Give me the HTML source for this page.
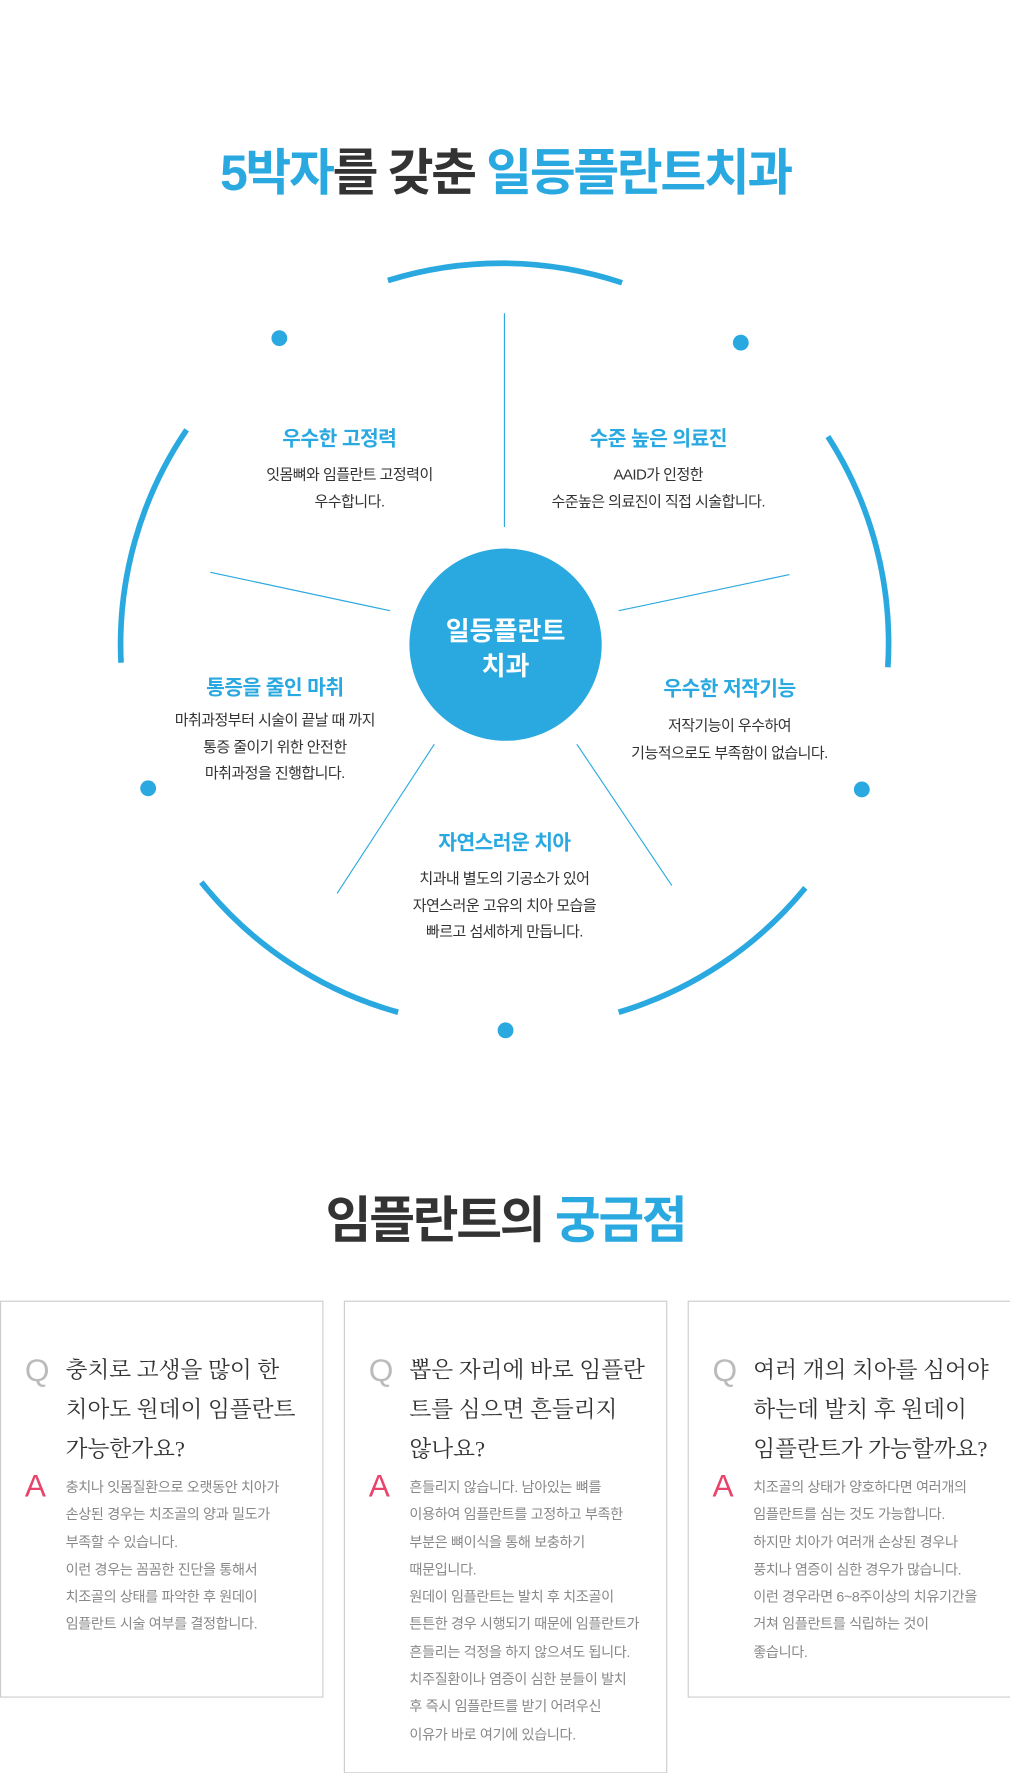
<!DOCTYPE html>
<html><head><meta charset="utf-8"><style>
html,body{margin:0;padding:0;background:#fff;width:1010px;height:1773px;overflow:hidden}
#w{position:absolute;left:0;top:0;width:893px;height:1568px;transform:scale(1.131);transform-origin:0 0;font-family:"Liberation Sans","Noto Sans CJK KR",sans-serif}
.a{position:absolute;white-space:nowrap;text-align:center;transform:translateX(-50%)}
.t{font-size:44px;font-weight:bold;letter-spacing:-2px;color:#333;line-height:1}
.b{color:#29a9e0}
.h{font-size:18px;font-weight:bold;color:#29a9e0;letter-spacing:-0.5px}
.d{font-size:13.3px;color:#333;line-height:23.5px;letter-spacing:-0.5px}
.card{position:absolute;border:1px solid #ccc;box-sizing:border-box}
.q{position:absolute;left:21px;top:45px;font-size:28px;color:#bbb;font-family:"Liberation Sans",sans-serif}
.qt{position:absolute;left:57px;top:44px;font-family:"Liberation Serif","Noto Serif CJK SC",serif;font-size:20px;line-height:35px;color:#333;white-space:nowrap}
.aa{position:absolute;left:21px;top:147px;font-size:28px;color:#e8436a;font-family:"Liberation Sans",sans-serif}
.at{position:absolute;left:57px;top:152px;font-size:12.5px;line-height:24.3px;color:#888;white-space:nowrap;letter-spacing:-0.3px}
</style></head><body><div id="w">
<div class="a t" style="left:447px;top:132px"><span class="b">5박자</span>를 갖춘 <span class="b">일등플란트치과</span></div>
<svg style="position:absolute;left:0;top:0" width="893" height="1000">
<g fill="none" stroke="#29a9e0" stroke-width="5">
<path d="M343 248 A338 338 0 0 1 550 250"/>
<path d="M165 380 A338 338 0 0 0 107 586"/>
<path d="M732 386 A338 338 0 0 1 785 590"/>
<path d="M178 780 A338 338 0 0 0 352 895"/>
<path d="M547 895 A338 338 0 0 0 712 785"/>
</g>
<g fill="#29a9e0"><circle cx="247" cy="299" r="7"/><circle cx="655" cy="303" r="7"/><circle cx="131" cy="697" r="7"/><circle cx="762" cy="698" r="7"/><circle cx="447" cy="911" r="7"/></g>
<g stroke="#29a9e0" stroke-width="1">
<line x1="446" y1="277" x2="446" y2="466"/><line x1="186" y1="506" x2="345" y2="540"/><line x1="547" y1="540" x2="698" y2="508"/><line x1="384" y1="658" x2="298" y2="790"/><line x1="510" y1="658" x2="594" y2="783"/>
</g>
<circle cx="447" cy="570" r="85" fill="#29a9e0"/>
</svg>
<div class="a" style="left:447px;top:543px;color:#fff;font-size:23px;font-weight:bold;line-height:31px">일등플란트<br>치과</div>
<div class="a h" style="left:300px;top:374px">우수한 고정력</div>
<div class="a d" style="left:309px;top:408px">잇몸뼈와 임플란트 고정력이<br>우수합니다.</div>
<div class="a h" style="left:582px;top:374px">수준 높은 의료진</div>
<div class="a d" style="left:582px;top:408px">AAID가 인정한<br>수준높은 의료진이 직접 시술합니다.</div>
<div class="a h" style="left:243px;top:594px">통증을 줄인 마취</div>
<div class="a d" style="left:243px;top:625px">마취과정부터 시술이 끝날 때 까지<br>통증 줄이기 위한 안전한<br>마취과정을 진행합니다.</div>
<div class="a h" style="left:645px;top:595px">우수한 저작기능</div>
<div class="a d" style="left:645px;top:630px">저작기능이 우수하여<br>기능적으로도 부족함이 없습니다.</div>
<div class="a h" style="left:446px;top:731px">자연스러운 치아</div>
<div class="a d" style="left:446px;top:765px">치과내 별도의 기공소가 있어<br>자연스러운 고유의 치아 모습을<br>빠르고 섬세하게 만듭니다.</div>
<div class="a t" style="left:447px;top:1058px">임플란트의 <span class="b">궁금점</span></div>
<div class="card" style="left:0;top:1150px;width:286px;height:351px">
<div class="q">Q</div><div class="qt">충치로 고생을 많이 한<br>치아도 원데이 임플란트<br>가능한가요?</div>
<div class="aa">A</div><div class="at">충치나 잇몸질환으로 오랫동안 치아가<br>손상된 경우는 치조골의 양과 밀도가<br>부족할 수 있습니다.<br>이런 경우는 꼼꼼한 진단을 통해서<br>치조골의 상태를 파악한 후 원데이<br>임플란트 시술 여부를 결정합니다.</div></div>
<div class="card" style="left:304px;top:1150px;width:286px;height:418px">
<div class="q">Q</div><div class="qt">뽑은 자리에 바로 임플란<br>트를 심으면 흔들리지<br>않나요?</div>
<div class="aa">A</div><div class="at">흔들리지 않습니다. 남아있는 뼈를<br>이용하여 임플란트를 고정하고 부족한<br>부분은 뼈이식을 통해 보충하기<br>때문입니다.<br>원데이 임플란트는 발치 후 치조골이<br>튼튼한 경우 시행되기 때문에 임플란트가<br>흔들리는 걱정을 하지 않으셔도 됩니다.<br>치주질환이나 염증이 심한 분들이 발치<br>후 즉시 임플란트를 받기 어려우신<br>이유가 바로 여기에 있습니다.</div></div>
<div class="card" style="left:608px;top:1150px;width:286px;height:351px">
<div class="q">Q</div><div class="qt">여러 개의 치아를 심어야<br>하는데 발치 후 원데이<br>임플란트가 가능할까요?</div>
<div class="aa">A</div><div class="at">치조골의 상태가 양호하다면 여러개의<br>임플란트를 심는 것도 가능합니다.<br>하지만 치아가 여러개 손상된 경우나<br>풍치나 염증이 심한 경우가 많습니다.<br>이런 경우라면 6~8주이상의 치유기간을<br>거쳐 임플란트를 식립하는 것이<br>좋습니다.</div></div>
</div></body></html>
